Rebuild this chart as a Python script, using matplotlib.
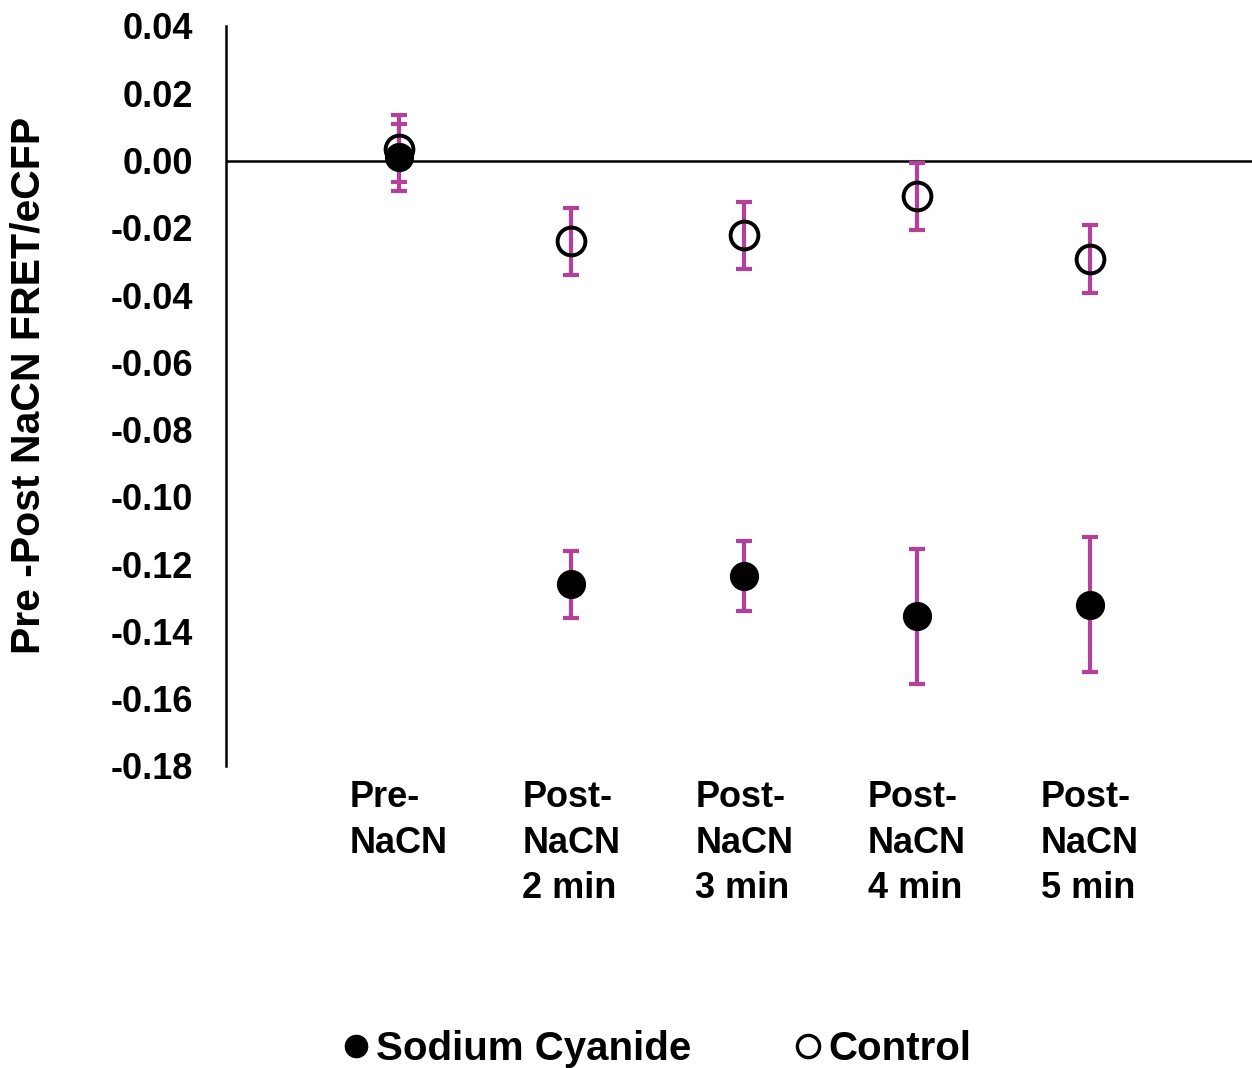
import matplotlib.pyplot as plt
from matplotlib.lines import Line2D

# Дані
categories = ["Pre-\nNaCN", "Post-\nNaCN\n2 min", "Post-\nNaCN\n3 min",
              "Post-\nNaCN\n4 min", "Post-\nNaCN\n5 min"]
cyanide = [0.001, -0.126, -0.1235, -0.1355, -0.132]
cyanide_err = [0.010, 0.010, 0.0103, 0.020, 0.020]
control = [0.0035, -0.024, -0.0222, -0.0107, -0.0293]
control_err = [0.010, 0.010, 0.010, 0.010, 0.010]
yticks = [0.04, 0.02, 0.00, -0.02, -0.04, -0.06, -0.08, -0.10,
          -0.12, -0.14, -0.16, -0.18]

plt.rcParams['font.family'] = ['Liberation Sans', 'DejaVu Sans']
plt.rcParams['font.weight'] = 'bold'

magenta = '#B5409A'
x = list(range(1, len(categories) + 1))

fig = plt.figure(figsize=(12.52, 10.68), dpi=100)
ax = fig.add_axes([0.1805, 0.2828, 0.8195, 0.6929])

ax.axhline(0, color='black', lw=1.8, zorder=1)

ax.errorbar(x, control, yerr=control_err, fmt='none', ecolor=magenta,
            elinewidth=3, capsize=6, capthick=3, zorder=2)
ax.errorbar(x, cyanide, yerr=cyanide_err, fmt='none', ecolor=magenta,
            elinewidth=3, capsize=6, capthick=3, zorder=2)
ax.plot(x, cyanide, 'o', color='black', markersize=20, zorder=3)
ax.plot(x, control, 'o', markerfacecolor='none', markeredgecolor='black',
        markersize=20, markeredgewidth=2.8, zorder=4)

ax.set_xlim(0, 5.94)
ax.set_ylim(-0.18, 0.04)
ax.set_yticks(yticks)
ax.set_yticklabels([f"{v:.2f}" for v in yticks], fontsize=26, fontweight='bold')
ax.tick_params(axis='y', length=0, pad=24)
ax.set_xticks(x)
ax.set_xticklabels(categories, fontsize=26, fontweight='bold',
                   multialignment='left', linespacing=1.4)
ax.tick_params(axis='x', length=0, pad=10)

for s in ['top', 'right', 'bottom']:
    ax.spines[s].set_visible(False)
ax.spines['left'].set_linewidth(1.8)

ax.set_ylabel("Pre -Post NaCN FRET/eCFP", fontsize=29.5, fontweight='bold')
ax.yaxis.set_label_coords(-0.174, 0.514)

handles = [
    Line2D([], [], marker='o', ls='none', color='black', markersize=16),
    Line2D([], [], marker='o', ls='none', markerfacecolor='none',
           markeredgecolor='black', markeredgewidth=2.4, markersize=16),
]
fig.legend(handles, ["Sodium Cyanide", "Control"], loc='center',
           bbox_to_anchor=(0.522, 0.0175), ncol=2, frameon=False,
           prop={'size': 29, 'weight': 'bold'}, handletextpad=0.0,
           columnspacing=2.4, handlelength=1.0)

fig.savefig("out.png", dpi=100)
